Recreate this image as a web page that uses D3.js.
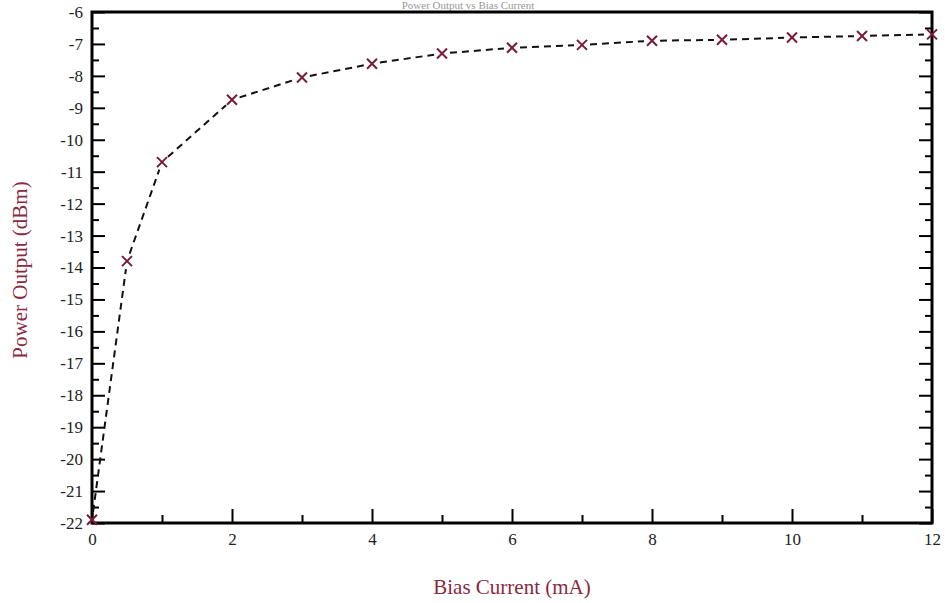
<!DOCTYPE html>
<html>
<head>
<meta charset="utf-8">
<script src="https://cdn.jsdelivr.net/npm/d3@7/dist/d3.min.js"></script>
<style>
  body { margin: 0; background: #fff; }
  svg { display: block; font-family: "Liberation Serif", "DejaVu Serif", serif; }
</style>
</head>
<body>
<svg id="chart" width="945" height="603"></svg>
<script>
// ----- data -----
var biasCurrent = [0, 0.5, 1, 2, 3, 4, 5, 6, 7, 8, 9, 10, 11, 12];
var powerOutput = [-21.9, -13.8, -10.7, -8.75, -8.05, -7.62, -7.3, -7.12, -7.03, -6.9, -6.87, -6.8, -6.75, -6.7];
var xTicks = [0, 2, 4, 6, 8, 10, 12];
var xMinorTicks = [1, 3, 5, 7, 9, 11];
var yTicks = d3.range(-22, -5, 1);
var yMinorTicks = d3.range(-21.5, -6, 1);

var titleText = 'Power Output vs Bias Current';
var xLabel = 'Bias Current (mA)';
var yLabel = 'Power Output (dBm)';

// plot box (note: "top" is reserved on window, so use px* names)
var pxLeft = 92, pxRight = 932, pxTop = 12, pxBottom = 523;

var svg = d3.select('#chart');

var x = d3.scaleLinear().domain([0, 12]).range([pxLeft, pxRight]);
var y = d3.scaleLinear().domain([-22, -6]).range([pxBottom, pxTop]);

// title, squeezed into the strip above the frame
svg.append('text')
   .attr('x', 468)
   .attr('y', 9)
   .attr('text-anchor', 'middle')
   .attr('font-size', 11)
   .attr('fill', '#999')
   .text(titleText);

// ----- axes (ticks point inward) -----
function styleAxis(g){
  g.select('.domain').remove();
  g.selectAll('.tick line').attr('stroke', '#000').attr('stroke-width', 2);
  g.selectAll('.tick text').attr('fill', '#222').attr('font-size', 17)
   .attr('font-family', '"Liberation Serif", "DejaVu Serif", serif');
}

svg.append('g')
   .attr('transform', 'translate(' + pxLeft + ',0)')
   .call(d3.axisLeft(y).tickValues(yTicks).tickSize(-13).tickPadding(9)
          .tickFormat(function(d){ return String(d); }))
   .call(styleAxis);

svg.append('g')
   .attr('transform', 'translate(' + pxLeft + ',0)')
   .call(d3.axisLeft(y).tickValues(yMinorTicks).tickSize(-7).tickFormat(''))
   .call(styleAxis);

svg.append('g')
   .attr('transform', 'translate(' + pxRight + ',0)')
   .call(d3.axisRight(y).tickValues(yTicks).tickSize(-13).tickFormat(''))
   .call(styleAxis);

svg.append('g')
   .attr('transform', 'translate(' + pxRight + ',0)')
   .call(d3.axisRight(y).tickValues(yMinorTicks).tickSize(-7).tickFormat(''))
   .call(styleAxis);

svg.append('g')
   .attr('transform', 'translate(0,' + pxBottom + ')')
   .call(d3.axisBottom(x).tickValues(xTicks).tickSize(-14).tickPadding(10)
          .tickFormat(function(d){ return String(d); }))
   .call(styleAxis);

svg.append('g')
   .attr('transform', 'translate(0,' + pxBottom + ')')
   .call(d3.axisBottom(x).tickValues(xMinorTicks).tickSize(-8).tickFormat(''))
   .call(styleAxis);

// frame
svg.append('rect')
   .attr('x', pxLeft).attr('y', pxTop)
   .attr('width', pxRight - pxLeft).attr('height', pxBottom - pxTop)
   .attr('fill', 'none')
   .attr('stroke', '#000')
   .attr('stroke-width', 3);

// ----- the line, broken around each marker -----
var pts = biasCurrent.map(function(d, i){ return {x: x(d), y: y(powerOutput[i])}; });
var gap = 8;
var segs = [];
for (var i = 0; i < pts.length - 1; i++) {
  var a = pts[i], b = pts[i + 1];
  var dx = b.x - a.x, dy = b.y - a.y;
  var len = Math.sqrt(dx * dx + dy * dy);
  var ux = dx / len, uy = dy / len;
  segs.push({x1: a.x + ux * gap, y1: a.y + uy * gap, x2: b.x - ux * gap, y2: b.y - uy * gap});
}

svg.append('g').selectAll('line.seg')
   .data(segs)
   .enter().append('line')
   .attr('class', 'seg')
   .attr('x1', function(d){ return d.x1; })
   .attr('y1', function(d){ return d.y1; })
   .attr('x2', function(d){ return d.x2; })
   .attr('y2', function(d){ return d.y2; })
   .attr('stroke', '#111')
   .attr('stroke-width', 2)
   .attr('stroke-dasharray', '7,5');

// markers
var s = 5;
var marks = svg.append('g').selectAll('g.mark')
   .data(pts)
   .enter().append('g')
   .attr('class', 'mark')
   .attr('transform', function(d){ return 'translate(' + d.x + ',' + d.y + ')'; });

marks.append('path')
   .attr('d', 'M' + (-s) + ',' + (-s) + 'L' + s + ',' + s + 'M' + (-s) + ',' + s + 'L' + s + ',' + (-s))
   .attr('stroke', '#7a1a3a')
   .attr('stroke-width', 2)
   .attr('fill', 'none');

// axis titles
svg.append('text')
   .attr('x', 512)
   .attr('y', 594)
   .attr('text-anchor', 'middle')
   .attr('font-size', 21)
   .attr('fill', '#8a2a40')
   .text(xLabel);

svg.append('text')
   .attr('transform', 'translate(27,270) rotate(-90)')
   .attr('text-anchor', 'middle')
   .attr('font-size', 21)
   .attr('fill', '#8a2a40')
   .text(yLabel);
</script>
</body>
</html>
